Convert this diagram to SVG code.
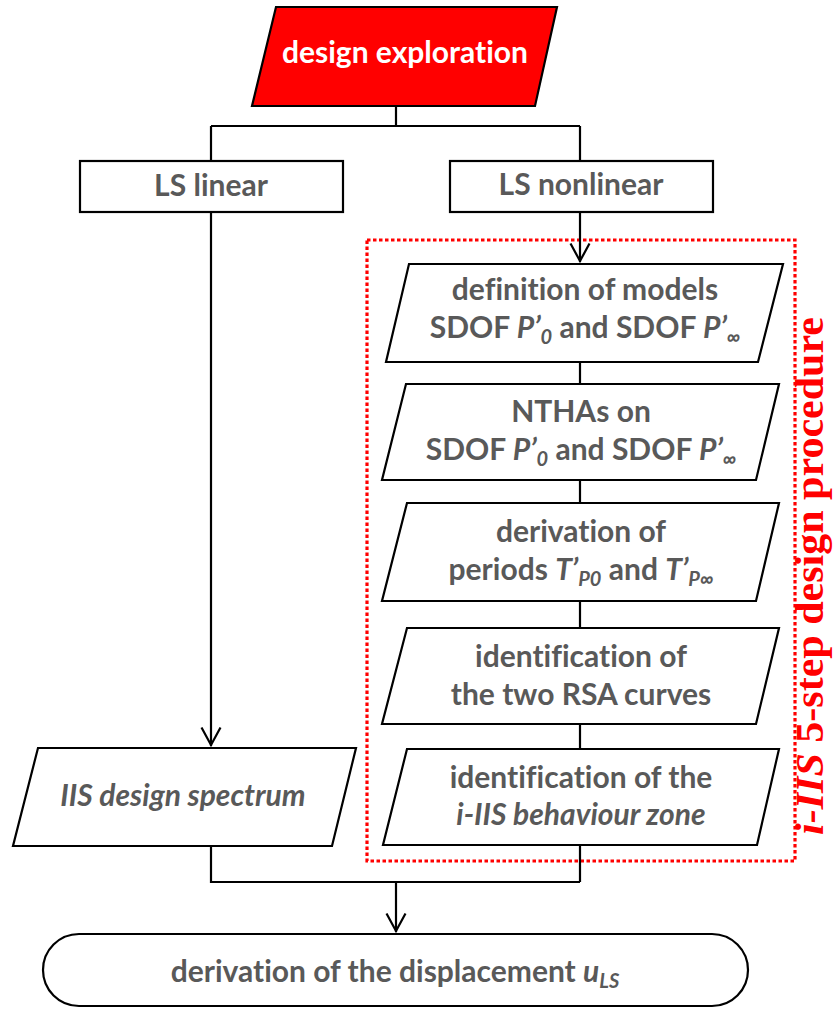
<svg xmlns="http://www.w3.org/2000/svg" width="833" height="1009" viewBox="0 0 833 1009">
  <defs>
    <style>
      .box { fill: #ffffff; stroke: #000000; stroke-width: 2.2; stroke-linejoin: miter; }
      .start { fill: #ff0000; stroke: #000000; stroke-width: 2.2; }
      .lbl { font-family: Lato, "Open Sans", "Liberation Sans", sans-serif; font-weight: 700; font-size: 30px; fill: #595959; text-anchor: middle; font-variant-ligatures: none; }
      .lbl-w { fill: #ffffff; }
      .it { font-style: italic; }
      .sub { font-size: 20px; font-style: italic; }
      .wire { fill: none; stroke: #000000; stroke-width: 2.2; }
      .frame { fill: none; stroke: #ff0000; stroke-width: 3.2; stroke-dasharray: 3.5 2.5; }
      .side { font-family: "Liberation Serif", "Times New Roman", serif; font-weight: 700; font-size: 39px; fill: #ff0000; text-anchor: middle; }
    </style>
    <marker id="vee" viewBox="0 0 24 24" markerWidth="24" markerHeight="24" refX="12" refY="22" orient="0" markerUnits="userSpaceOnUse">
      <path d="M2.5 3.5 L12 21 L21.5 3.5" fill="none" stroke="#000000" stroke-width="2.2"/>
    </marker>
  </defs>

  <!-- dotted frame around the five-step procedure -->
  <rect class="frame" x="367" y="240" width="428" height="621"/>
  <text class="side" transform="translate(823,576) rotate(-90)" textLength="518" lengthAdjust="spacingAndGlyphs"><tspan class="it">i-IIS</tspan> 5-step design procedure</text>

  <!-- connectors -->
  <g id="connectors">
    <path class="wire" d="M396 106 V126 M211 126 H580 M211 126 V161 M580 126 V161"/>
    <path class="wire" d="M580 212 V262" marker-end="url(#vee)"/>
    <path class="wire" d="M211 212 V746" marker-end="url(#vee)"/>
    <path class="wire" d="M580 362 V384 M580 480 V503 M580 601 V628 M580 724 V749"/>
    <path class="wire" d="M580 845 V882 M211 846 V882 H580"/>
    <path class="wire" d="M396 882 V932" marker-end="url(#vee)"/>
  </g>

  <g id="design-exploration">
    <polygon class="start" points="276,7 557,7 535,106 252,106"/>
    <text class="lbl lbl-w" x="405" y="63">design exploration</text>
  </g>

  <g id="ls-linear">
    <rect class="box" x="80" y="161" width="263" height="51"/>
    <text class="lbl" x="211" y="196">LS linear</text>
  </g>

  <g id="ls-nonlinear">
    <rect class="box" x="450" y="161" width="263" height="51"/>
    <text class="lbl" x="581" y="195">LS nonlinear</text>
  </g>

  <g id="step-models">
    <polygon class="box" points="409,264 783,264 758,362 386,362"/>
    <text class="lbl" x="585" y="300">definition of models</text>
    <text class="lbl" x="585" y="338">SDOF <tspan class="it">P’</tspan><tspan class="sub" dy="6">0</tspan><tspan dy="-6"> and SDOF </tspan><tspan class="it">P’</tspan><tspan class="sub" dy="6">∞</tspan></text>
  </g>

  <g id="step-ntha">
    <polygon class="box" points="406,384 779,384 756,480 382,480"/>
    <text class="lbl" x="581" y="422">NTHAs on</text>
    <text class="lbl" x="581" y="460">SDOF <tspan class="it">P’</tspan><tspan class="sub" dy="6">0</tspan><tspan dy="-6"> and SDOF </tspan><tspan class="it">P’</tspan><tspan class="sub" dy="6">∞</tspan></text>
  </g>

  <g id="step-periods">
    <polygon class="box" points="407,503 779,503 756,601 382,601"/>
    <text class="lbl" x="581" y="542">derivation of</text>
    <text class="lbl" x="581" y="580">periods <tspan class="it">T’</tspan><tspan class="sub" dy="6">P0</tspan><tspan dy="-6"> and </tspan><tspan class="it">T’</tspan><tspan class="sub" dy="6">P∞</tspan></text>
  </g>

  <g id="step-rsa">
    <polygon class="box" points="407,628 779,628 756,724 382,724"/>
    <text class="lbl" x="581" y="667">identification of</text>
    <text class="lbl" x="581" y="705">the two RSA curves</text>
  </g>

  <g id="step-zone">
    <polygon class="box" points="407,749 779,749 757,845 383,845"/>
    <text class="lbl" x="581" y="788">identification of the</text>
    <text class="lbl it" x="581" y="825">i-IIS behaviour zone</text>
  </g>

  <g id="iis-spectrum">
    <polygon class="box" points="38,748 356,748 332,846 13,846"/>
    <text class="lbl it" x="183" y="806">IIS design spectrum</text>
  </g>

  <g id="displacement">
    <rect class="box" x="43" y="934" width="705" height="72" rx="36" ry="36"/>
    <text class="lbl" x="395" y="982">derivation of the displacement <tspan class="it">u</tspan><tspan class="sub" dy="6">LS</tspan></text>
  </g>
</svg>
